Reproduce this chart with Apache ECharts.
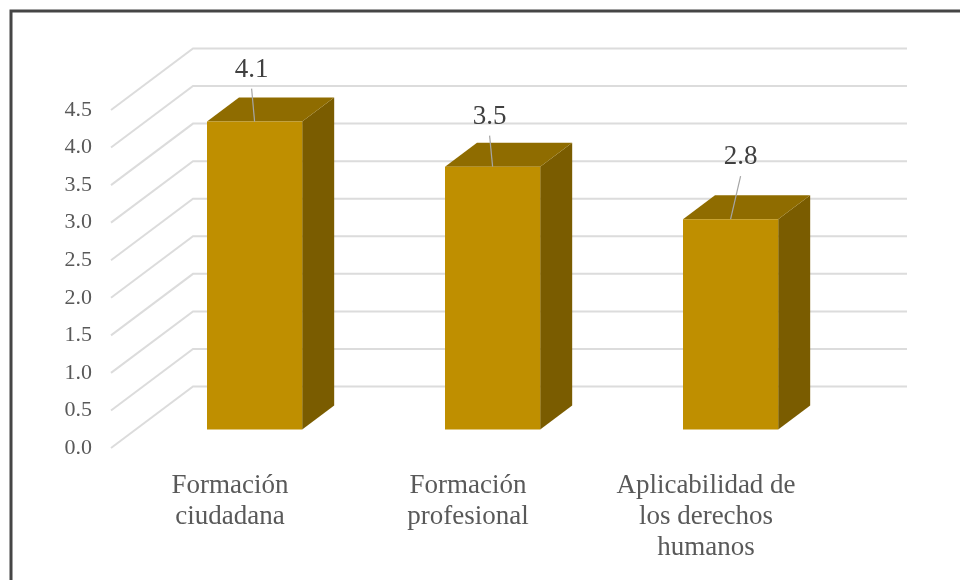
<!DOCTYPE html>
<html>
<head>
<meta charset="utf-8">
<script src="https://cdn.jsdelivr.net/npm/echarts@6/dist/echarts.min.js"></script>
<style>
  html, body { margin: 0; padding: 0; background: #ffffff; }
  #chart { width: 960px; height: 580px; }
</style>
</head>
<body>
<div id="chart"></div>
<script>
// ---- data ----
const categories = ['Formación\nciudadana', 'Formación\nprofesional', 'Aplicabilidad de\nlos derechos\nhumanos'];
const values = [4.1, 3.5, 2.8];
const yTicks = [0, 0.5, 1, 1.5, 2, 2.5, 3, 3.5, 4, 4.5];

// ---- layout / style constants ----
const DX = 82, DY = -61.5;       // offset of the back wall relative to the front plane
const Z0 = 0.3, Z1 = 0.69;       // depth span of the bars
const FONT = 'Liberation Serif';
const TXT = '#595959';
const calloutDx = [-3, -3, 10];
const calloutLineDy = [-33, -31, -43];
const calloutTextDy = [-52, -50, -62];

const chart = echarts.init(document.getElementById('chart'), null, { renderer: 'canvas' });

const option = {
  animation: false,
  backgroundColor: '#ffffff',
  graphic: [{
    type: 'rect',
    shape: { x: 11, y: 11, width: 1200, height: 1200 },
    style: { fill: 'none', stroke: '#454545', lineWidth: 3 },
    z: 100
  }],
  grid: { left: 111, top: 110, width: 714, height: 338 },
  xAxis: {
    type: 'category',
    data: categories,
    axisLine: { show: false },
    axisTick: { show: false },
    splitLine: { show: false },
    axisLabel: {
      margin: 22,
      color: TXT,
      fontFamily: FONT,
      fontSize: 27,
      lineHeight: 31,
      interval: 0
    }
  },
  yAxis: {
    type: 'value',
    min: 0,
    max: 4.5,
    interval: 0.5,
    axisLine: { show: false },
    axisTick: { show: false },
    splitLine: { show: false },
    axisLabel: {
      margin: 19,
      color: TXT,
      fontFamily: FONT,
      fontSize: 22,
      formatter: v => v.toFixed(1)
    }
  },
  series: [
    {
      type: 'custom',
      z: 1,
      silent: true,
      data: yTicks.map(t => [0, t]),
      renderItem: function (params, api) {
        const cs = params.coordSys;
        const y = api.coord([0, api.value(1)])[1];
        return {
          type: 'polyline',
          shape: { points: [[cs.x, y], [cs.x + DX, y + DY], [cs.x + cs.width + DX, y + DY]] },
          style: { stroke: '#dcdcdc', lineWidth: 2, fill: 'none' }
        };
      }
    },
    {
      type: 'custom',
      z: 5,
      data: values.map((v, i) => [i, v]),
      renderItem: function (params, api) {
        const i = params.dataIndex;
        const base = api.coord([api.value(0), 0]);
        const top = api.coord([api.value(0), api.value(1)]);
        const bw = api.size([1, 0])[0] * 0.4;
        const x0 = base[0] - bw / 2 + DX * Z0;
        const x1 = x0 + bw;
        const yb = base[1] + DY * Z0;
        const yt = top[1] + DY * Z0;
        const ddx = DX * (Z1 - Z0), ddy = DY * (Z1 - Z0);
        const cx = (x0 + x1) / 2;
        return {
          type: 'group',
          children: [
            {
              type: 'polygon',
              shape: { points: [[x1, yt], [x1 + ddx, yt + ddy], [x1 + ddx, yb + ddy], [x1, yb]] },
              style: { fill: '#7a5c00' }
            },
            {
              type: 'polygon',
              shape: { points: [[x0, yt], [x1, yt], [x1 + ddx, yt + ddy], [x0 + ddx, yt + ddy]] },
              style: { fill: '#8f6c00' }
            },
            {
              type: 'rect',
              shape: { x: x0, y: yt, width: bw, height: yb - yt },
              style: { fill: '#bf8f00' }
            },
            {
              type: 'line',
              shape: { x1: cx, y1: yt, x2: cx + calloutDx[i], y2: yt + calloutLineDy[i] },
              style: { stroke: '#a6a6a6', lineWidth: 1.2 }
            },
            {
              type: 'text',
              x: cx + calloutDx[i],
              y: yt + calloutTextDy[i],
              style: {
                text: api.value(1).toFixed(1),
                fill: '#404040',
                font: '27px ' + FONT,
                align: 'center',
                verticalAlign: 'middle'
              }
            }
          ]
        };
      }
    }
  ]
};

chart.setOption(option);
</script>
</body>
</html>
